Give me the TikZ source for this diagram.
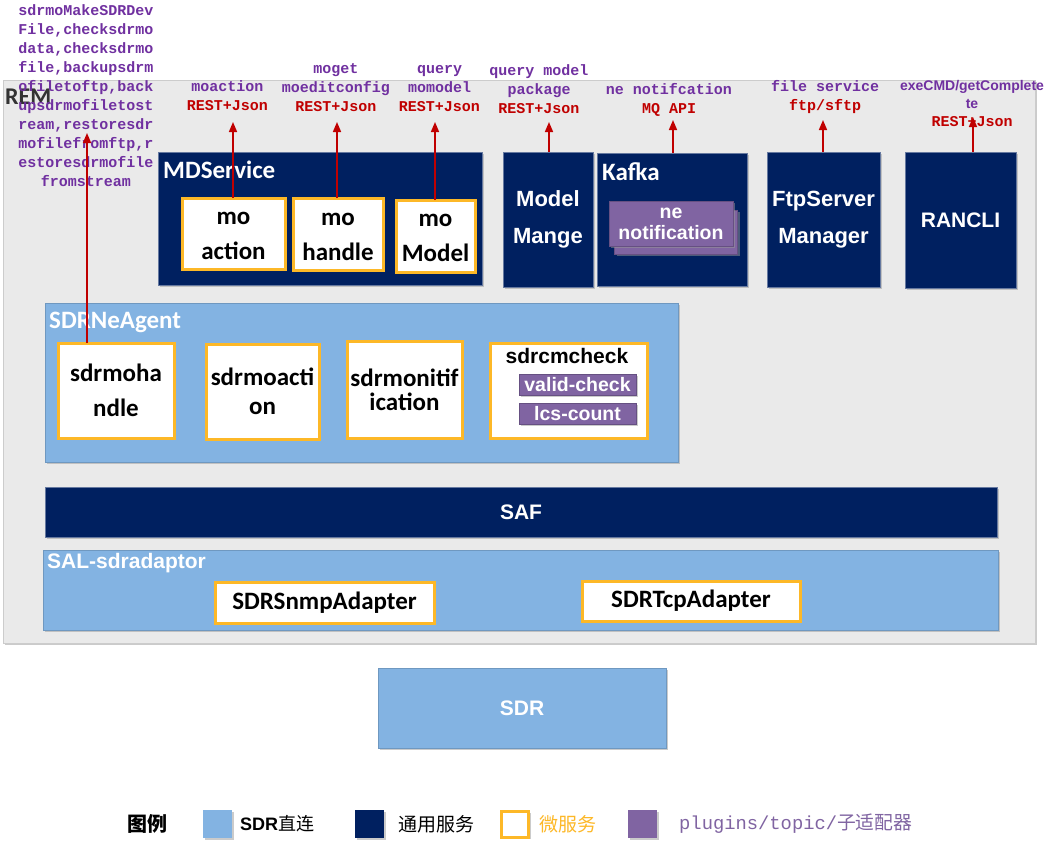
\documentclass[tikz,border=0pt]{standalone}
\usepackage{fontspec}
\setmainfont{Liberation Sans}
\newfontfamily\arialfont{Liberation Sans}
\newfontfamily\calfont{Carlito}
\newfontfamily\monofont{Liberation Mono}
\newfontfamily\cjkfont{Noto Sans CJK SC}
\usetikzlibrary{shadows,arrows.meta}
\definecolor{navy}{HTML}{002060}
\definecolor{lblue}{HTML}{83B3E2}
\definecolor{remgray}{HTML}{EAEAEA}
\definecolor{myyellow}{HTML}{FDB827}
\definecolor{plum}{HTML}{8064A2}
\definecolor{txtpurple}{HTML}{7030A0}
\definecolor{arrred}{HTML}{C00000}
\lineskiplimit=-50pt
\tikzset{
  box/.style={shape=rectangle, inner sep=0pt, outer sep=0pt,
    drop shadow={shadow xshift=2pt, shadow yshift=-2pt, fill=black!40, opacity=0.5}},
  rembox/.style={box, fill=remgray, draw=black!20, line width=0.8pt},
  navybox/.style={box, fill=navy, draw=navy!60!white, line width=0.8pt, text=white, align=center,
    font=\arialfont\bfseries\fontsize{21}{37}\selectfont},
  sdrbox/.style={box, fill=lblue, draw=lblue!85!black, line width=0.5pt, text=white, align=center,
    font=\arialfont\bfseries\fontsize{21}{24}\selectfont},
  microbox/.style={box, fill=white, draw=myyellow, line width=3pt, text=black, align=center,
    font=\calfont\bfseries\fontsize{25}{35}\selectfont},
  plugbox/.style={box, fill=plum, draw=plum!80!black, line width=0.6pt, text=white, align=center,
    font=\arialfont\bfseries\fontsize{19.5}{21}\selectfont},
  boxtitle/.style={anchor=west, inner sep=0pt, text=white, font=\calfont\bfseries\fontsize{25}{27}\selectfont},
  ann/.style={inner sep=0pt, align=center, text=txtpurple, font=\monofont\bfseries\fontsize{15}{19}\selectfont},
  arr/.style={draw=arrred, line width=1.6pt, -{Triangle[width=8pt,length=10pt]}},
  legsq/.style={box, minimum width=29, minimum height=28},
  legtext/.style={anchor=west, inner sep=0pt}
}
\begin{document}
\lineskiplimit=-50pt
\begin{tikzpicture}[x=1pt,y=-1pt]
\useasboundingbox (0,0) rectangle (1052,844);
\fill[white] (0,0) rectangle (1052,844);

% REM frame
\node[rembox, minimum width=1032, minimum height=563] (rem) at (519,361.5) {};
\node[anchor=west, inner sep=0pt, text=black!80, font=\calfont\bfseries\fontsize{24}{26}\selectfont] (remlabel) at (5,97) {REM};

% MDService
\node[navybox, minimum width=324, minimum height=133] (mds) at (320,218.5) {};
\node[boxtitle] (mdslabel) at (163,170) {MDService};
\node[microbox, minimum width=103, minimum height=71] (moaction) at (233.5,233.5) {\rule{0pt}{18pt}mo\\action};
\node[microbox, minimum width=90, minimum height=72] (mohandle) at (338,234) {\rule{0pt}{18pt}mo\\handle};
\node[microbox, minimum width=79, minimum height=72] (momodel) at (435.5,236) {\rule{0pt}{17pt}mo\\Model};

% Model Mange
\node[navybox, minimum width=90, minimum height=135, font=\arialfont\bfseries\fontsize{22}{37}\selectfont] (modelmange) at (548,219.5) {Model\\Mange};

% Kafka
\node[navybox, minimum width=150, minimum height=133] (kafka) at (672,219.5) {};
\node[boxtitle] (kafkalabel) at (602,172) {Kafka};
\node[plugbox, minimum width=123, minimum height=44] (neback) at (676,232) {};
\node[plugbox, minimum width=124, minimum height=45] (nenotif) at (671,223.5) {ne\\notification};

% FtpServer Manager
\node[navybox, minimum width=113, minimum height=135, font=\arialfont\bfseries\fontsize{22}{37}\selectfont] (ftp) at (823.5,219.5) {FtpServer\\Manager};

% RANCLI
\node[navybox, minimum width=111, minimum height=136] (rancli) at (960.5,220) {RANCLI};

% SDRNeAgent
\node[sdrbox, minimum width=633, minimum height=159] (agent) at (361.5,382.5) {};
\node[boxtitle] (agentlabel) at (49,322) {SDRNeAgent};
\node[microbox, minimum width=116, minimum height=95] (sdrmohandle) at (116,390.5) {sdrmoha\\ndle};
\node[microbox, minimum width=113, minimum height=95, font=\calfont\bfseries\fontsize{25}{29}\selectfont] (sdrmoaction) at (262.5,391.5) {sdrmoacti\\on};
\node[microbox, minimum width=115, minimum height=97, font=\calfont\bfseries\fontsize{25}{24}\selectfont] (sdrmonit) at (404.5,389.5) {sdrmonitif\\ication};
\node[microbox, minimum width=157, minimum height=95] (sdrcmcheck) at (568.5,390.5) {};
\node[inner sep=0pt, text=black, font=\arialfont\bfseries\fontsize{21}{23}\selectfont] (cmchecklabel) at (567,356) {sdrcmcheck};
\node[plugbox, minimum width=117, minimum height=21] (validcheck) at (577.5,384.5) {valid-check};
\node[plugbox, minimum width=117, minimum height=21] (lcscount) at (577.5,413.5) {lcs-count};

% SAF
\node[navybox, minimum width=952, minimum height=50] (saf) at (521,512) {SAF};

% SAL-sdradaptor
\node[sdrbox, minimum width=955, minimum height=80] (sal) at (520.5,590) {};
\node[legtext, text=white, font=\arialfont\bfseries\fontsize{21}{23}\selectfont] (sallabel) at (47,563) {SAL-sdradaptor};
\node[microbox, minimum width=219, minimum height=41] (snmp) at (324.5,602.5) {SDRSnmpAdapter};
\node[microbox, minimum width=218, minimum height=40] (tcp) at (691,601) {SDRTcpAdapter};

% SDR
\node[sdrbox, minimum width=288, minimum height=80] (sdr) at (522,708) {SDR};

% annotations
\node[ann] (annleft) at (86,95.5) {sdrmoMakeSDRDev\\File,checksdrmo\\data,checksdrmo\\file,backupsdrm\\ofiletoftp,back\\upsdrmofiletost\\ream,restoresdr\\mofilefromftp,r\\estoresdrmofile\\fromstream};
\node[ann] (annmoaction) at (227.5,95.5) {moaction\\\textcolor{arrred}{REST+Json}};
\node[ann] (annmoget) at (336,87.5) {moget\\moeditconfig\\\textcolor{arrred}{REST+Json}};
\node[ann] (annquery) at (439.5,88.5) {query\\momodel\\\textcolor{arrred}{REST+Json}};
\node[ann] (annpackage) at (539,89.5) {query model\\package\\\textcolor{arrred}{REST+Json}};
\node[ann] (annne) at (669,99.5) {ne notifcation\\\textcolor{arrred}{MQ API}};
\node[ann] (annfile) at (825,97.5) {file service\\\textcolor{arrred}{ftp/sftp}};
\node[inner sep=0pt, align=center, text=txtpurple, font=\arialfont\bfseries\fontsize{14}{18}\selectfont] (annexe) at (972,94) {exeCMD/getComplete\\te};
\node[ann, text=arrred] (annexerest) at (972,122) {REST+Json};

% arrows
\coordinate (t0) at (87,133);
\coordinate (t1) at (233,122);
\coordinate (t2) at (337,122);
\coordinate (t3) at (435,122);
\coordinate (t4) at (549,122);
\coordinate (t5) at (673,120);
\coordinate (t6) at (823,120);
\coordinate (t7) at (973,117);
\draw[arr] (sdrmohandle.north -| t0) -- (t0);
\draw[arr] (moaction.north -| t1) -- (t1);
\draw[arr] (mohandle.north -| t2) -- (t2);
\draw[arr] (momodel.north -| t3) -- (t3);
\draw[arr] (modelmange.north -| t4) -- (t4);
\draw[arr] (kafka.north -| t5) -- (t5);
\draw[arr] (ftp.north -| t6) -- (t6);
\draw[arr] (rancli.north -| t7) -- (t7);

% legend
\node[legtext, font=\cjkfont\bfseries\fontsize{20}{22}\selectfont] (legtitle) at (127,824) {图例};
\node[legsq, fill=lblue] (legsdr) at (217,824) {};
\node[legtext, font=\fontsize{18}{20}\selectfont] (legsdrtext) at (240,824) {{\arialfont\bfseries SDR}{\cjkfont 直连}};
\node[legsq, fill=navy] (legnavy) at (369,824) {};
\node[legtext, font=\cjkfont\fontsize{19}{21}\selectfont] (legnavytext) at (398,824) {通用服务};
\node[legsq, fill=white, draw=myyellow, line width=3pt, minimum width=27, minimum height=26] (legmicro) at (515,824) {};
\node[legtext, text=myyellow, font=\cjkfont\fontsize{19}{21}\selectfont] (legmicrotext) at (539,824) {微服务};
\node[legsq, fill=plum] (legplug) at (642,824) {};
\node[legtext, text=plum, font=\fontsize{18.8}{20}\selectfont] (legplugtext) at (679,824) {{\monofont plugins/topic/}{\cjkfont 子适配器}};
\end{tikzpicture}
\end{document}
